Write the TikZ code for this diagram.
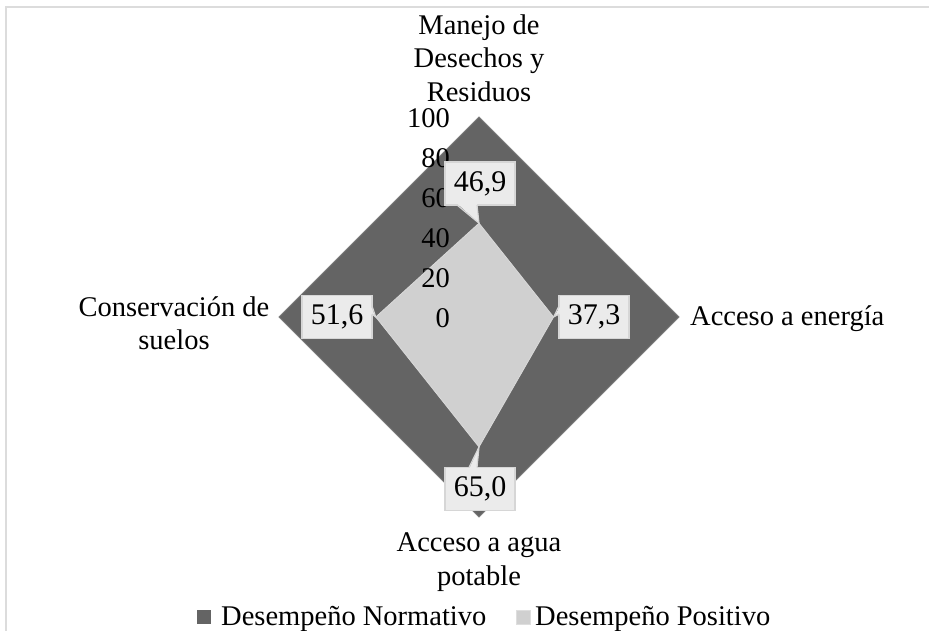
\documentclass[tikz,border=0pt]{standalone}
\usepackage{fontspec}
\setmainfont{Liberation Serif}
\definecolor{darkser}{HTML}{646464}
\definecolor{lightser}{HTML}{D0D0D0}
\definecolor{callfill}{HTML}{EBEBEB}
\definecolor{callline}{HTML}{D6D6D6}
\definecolor{framecol}{HTML}{DCDCDC}
\tikzset{
  lbl/.style={font=\fontsize{28.5}{33.5}\selectfont, inner sep=0pt, align=center},
  ticklbl/.style={font=\fontsize{28.5}{34}\selectfont, inner sep=0pt, anchor=east},
  callbox/.style={font=\fontsize{30}{34}\selectfont, fill=callfill, draw=callline, line width=1.2pt, minimum width=70pt, minimum height=43pt, inner sep=0pt},
  tailline/.style={draw=callline, line width=1.2pt},
  legsq/.style={minimum size=14pt, inner sep=0pt},
}
\begin{document}
\begin{tikzpicture}[x=1pt,y=-1pt]
\useasboundingbox (0,0) rectangle (929,631);
% frame
\coordinate (fa) at (6,631);
\coordinate (fb) at (6,7);
\coordinate (fc) at (929,7);
\draw[framecol, line width=2pt] (fa) -- (fb) -- (fc);
% outer diamond (Desempeño Normativo)
\coordinate (oT) at (479,117);
\coordinate (oR) at (679,317);
\coordinate (oB) at (479,517);
\coordinate (oL) at (279,317);
\filldraw[fill=darkser, draw=darkser!85!white, line width=0.8pt] (oT) -- (oR) -- (oB) -- (oL) -- cycle;
% inner diamond (Desempeño Positivo)
\coordinate (iT) at (479,223.2);
\coordinate (iR) at (553.6,317);
\coordinate (iB) at (479,447);
\coordinate (iL) at (375.8,317);
\filldraw[fill=lightser, draw=lightser!80!white, line width=0.8pt] (iT) -- (iR) -- (iB) -- (iL) -- cycle;
% tick labels
\node[ticklbl] (t100) at (450,118) {100};
\node[ticklbl] (t80) at (450,158) {80};
\node[ticklbl] (t60) at (450,198) {60};
\node[ticklbl] (t40) at (450,238) {40};
\node[ticklbl] (t20) at (450,278) {20};
\node[ticklbl] (t0) at (450,318) {0};
% callouts
\node[callbox] (c1) at (480,183.5) {46,9};
\fill[callfill] (457,203.5) -- (iT) -- (477,203.5) -- cycle;
\draw[tailline] (457,205) -- (iT) -- (477,205);
\node[callbox] (c2) at (337,317) {51,6};
\fill[callfill] (370.5,306) -- (iL) -- (370.5,314) -- cycle;
\draw[tailline] (372,306) -- (iL) -- (372,314);
\node[callbox] (c3) at (594,317) {37,3};
\fill[callfill] (560.5,306) -- (iR) -- (560.5,314) -- cycle;
\draw[tailline] (559,306) -- (iR) -- (559,314);
\node[callbox] (c4) at (480,489) {65,0};
\fill[callfill] (469,469) -- (iB) -- (477,469) -- cycle;
\draw[tailline] (469,467.5) -- (iB) -- (477,467.5);
% category labels
\node[lbl] (lt) at (479,58) {Manejo de\\Desechos y\\Residuos};
\node[lbl, anchor=base west] (lr) at (690,325) {Acceso a energía};
\node[lbl] (lb) at (479,562) {Acceso a agua\\potable};
\node[lbl] (ll) at (174,323) {Conservación de\\suelos};
% legend
\node[legsq, fill=darkser] (k1) at (204,617) {};
\node[lbl, anchor=base west] (k1t) at (221,625) {Desempeño Normativo};
\node[legsq, fill=lightser, draw=lightser!70!white, line width=0.8pt] (k2) at (523,617) {};
\node[lbl, anchor=base west] (k2t) at (535,625) {Desempeño Positivo};
\end{tikzpicture}
\end{document}
